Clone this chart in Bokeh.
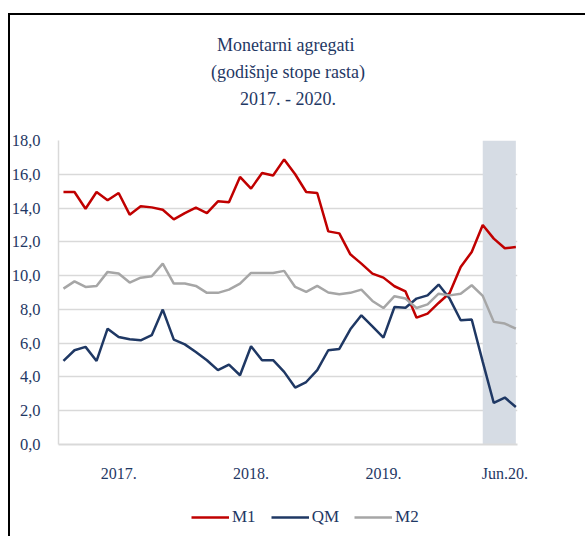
import pandas as pd
from bokeh.plotting import figure
from bokeh.layouts import column
from bokeh.models import (ColumnDataSource, FixedTicker, BoxAnnotation, Title,
                          Legend, LegendItem, Range1d)
from bokeh.embed import file_html
from bokeh.resources import INLINE

# ---------------- data ----------------
months = [p.strftime("%Y-%m") for p in pd.period_range("2017-01", "2020-06", freq="M")]

m1 = [14.95, 14.95, 13.96, 14.95, 14.46, 14.89, 13.61, 14.10, 14.04, 13.90, 13.33, 13.70,
      14.02, 13.70, 14.40, 14.34, 15.84, 15.15, 16.07, 15.93, 16.88, 16.00, 14.95, 14.89,
      12.62, 12.50, 11.26, 10.71, 10.12, 9.88, 9.37, 9.06, 7.51, 7.75, 8.38, 8.97,
      10.51, 11.40, 13.00, 12.19, 11.62, 11.69]

qm = [4.95, 5.58, 5.78, 4.95, 6.86, 6.37, 6.23, 6.17, 6.47, 7.99, 6.21, 5.93,
      5.48, 4.99, 4.40, 4.73, 4.10, 5.82, 4.99, 4.99, 4.30, 3.37, 3.70, 4.40,
      5.58, 5.66, 6.82, 7.65, 7.00, 6.33, 8.14, 8.10, 8.64, 8.83, 9.47, 8.64,
      7.36, 7.40, 4.89, 2.46, 2.78, 2.22]

m2 = [9.23, 9.66, 9.33, 9.39, 10.22, 10.12, 9.59, 9.88, 9.96, 10.71, 9.53, 9.53,
      9.39, 8.98, 8.98, 9.17, 9.53, 10.16, 10.16, 10.16, 10.28, 9.33, 9.04, 9.39,
      9.00, 8.90, 8.98, 9.17, 8.50, 8.08, 8.78, 8.64, 8.08, 8.30, 8.93, 8.83,
      8.93, 9.43, 8.80, 7.26, 7.16, 6.86]

series_names = ["M1", "QM", "M2"]
series_colors = ["#C00000", "#1F3864", "#A6A6A6"]

y_ticks = [0, 2, 4, 6, 8, 10, 12, 14, 16, 18]
x_tick_text = ["2017.", "2018.", "2019.", "Jun.20."]
x_tick_pos = [5, 17, 29, 40]

shade_months = ["2020-03", "2020-06"]

title_lines = ["Monetarni  agregati", "(godišnje stope rasta)", "2017. - 2020."]

# ---------------- chart ----------------
FONT = "Liberation Serif"
TXT = "#1F3864"

x = list(range(len(months)))
src = ColumnDataSource(dict(x=x, month=months, M1=m1, QM=qm, M2=m2))

p = figure(width=577, height=477, output_backend="svg", toolbar_location=None,
           x_range=Range1d(-0.45, 41.15), y_range=Range1d(0, 18),
           min_border_left=50, min_border_right=68, min_border_top=127,
           min_border_bottom=46)
p.margin = (13, 0, 0, 8)
p.styles = {"box-shadow": "inset 2px 2px 0 0 #000000"}
p.border_fill_color = None
p.outline_line_color = None
p.background_fill_color = "white"

# shaded period
s0, s1 = months.index(shade_months[0]), months.index(shade_months[1])
p.add_layout(BoxAnnotation(left=s0, right=s1, fill_color="#D6DCE4", fill_alpha=1.0,
                           line_color=None, level="underlay"))

for name, col in zip(series_names, series_colors):
    p.line("x", name, source=src, line_color=col, line_width=2.5)

# axes
p.xgrid.grid_line_color = None
p.ygrid.grid_line_color = "#D9D9D9"
p.ygrid.grid_line_width = 1.5
p.ygrid.ticker = FixedTicker(ticks=y_ticks)

p.yaxis.ticker = FixedTicker(ticks=y_ticks)
p.yaxis.major_label_overrides = {t: f"{t:.1f}".replace(".", ",") for t in y_ticks}
p.yaxis.axis_line_color = "#D9D9D9"
p.yaxis.axis_line_width = 1.5
p.yaxis.major_tick_line_color = None
p.yaxis.minor_tick_line_color = None
p.yaxis.major_label_standoff = 12
p.yaxis.major_label_text_font = FONT
p.yaxis.major_label_text_font_size = "16.5px"
p.yaxis.major_label_text_color = TXT

p.xaxis.ticker = FixedTicker(ticks=x_tick_pos)
p.xaxis.major_label_overrides = dict(zip(x_tick_pos, x_tick_text))
p.xaxis.axis_line_color = "#D9D9D9"
p.xaxis.axis_line_width = 2
p.xaxis.major_tick_line_color = None
p.xaxis.minor_tick_line_color = None
p.xaxis.major_label_standoff = 14
p.xaxis.major_label_text_font = FONT
p.xaxis.major_label_text_font_size = "16px"
p.xaxis.major_label_text_color = TXT

# spacer between frame and title, then three stacked title lines
p.add_layout(Title(text=" ", text_font=FONT, text_font_size="18px", standoff=7), "above")
for line in reversed(title_lines):
    p.add_layout(Title(text=line, align="center", text_font=FONT,
                       text_font_size="18px", text_font_style="normal",
                       text_color=TXT, standoff=5), "above")

# legend strip below the chart (its frame is aligned with the chart's frame)
lg = figure(width=577, height=46, output_backend="svg", toolbar_location=None,
            x_range=Range1d(0, 1), y_range=Range1d(0, 1), min_border=0)
lg.margin = (0, 0, 0, 8)
lg.styles = {"box-shadow": "inset 2px 0 0 0 #000000"}
lg.border_fill_color = None
lg.background_fill_color = None
lg.outline_line_color = None
lg.xaxis.visible = False
lg.yaxis.visible = False
lg.grid.visible = False

# legend keys: the same series, outside this strip's (0, 1) y-range so only keys show
keys = [lg.line("x", name, source=src, line_color=col, line_width=2.5)
        for name, col in zip(series_names, series_colors)]
legend = Legend(items=[LegendItem(label=n, renderers=[r]) for n, r in zip(series_names, keys)],
                orientation="horizontal", location=(133, 9))
legend.border_line_color = None
legend.background_fill_alpha = 0
legend.label_text_font = FONT
legend.label_text_font_size = "17px"
legend.label_text_color = TXT
legend.glyph_width = 38
legend.glyph_height = 20
legend.label_standoff = 3
legend.spacing = 15
legend.padding = 0
legend.margin = 0
lg.add_layout(legend)

layout = column(p, lg, spacing=0)
open("out.html", "w").write(file_html(layout, INLINE))
